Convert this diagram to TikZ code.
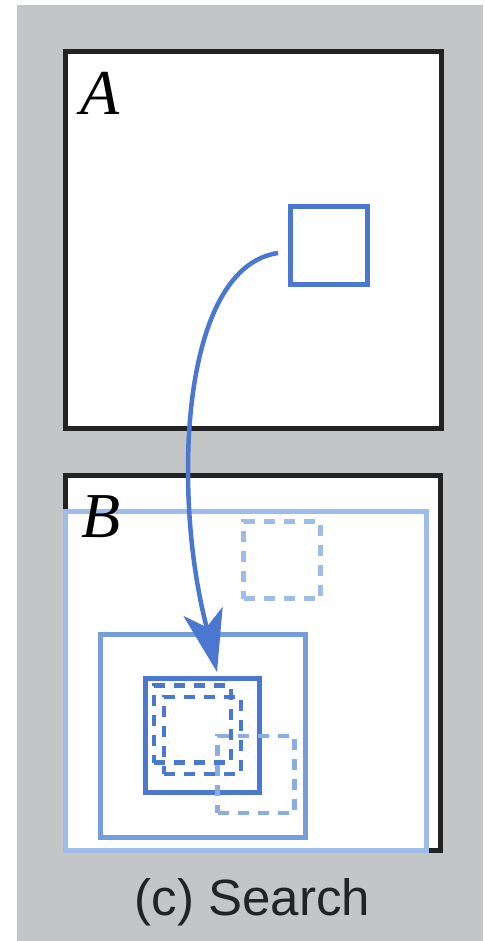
\documentclass[tikz,border=0pt]{standalone}
\usepackage{fontspec}
\setmainfont{Liberation Serif}
\newfontfamily\capfont{Liberation Sans}
\usetikzlibrary{arrows.meta,calc}
\definecolor{bggray}{HTML}{C4C5C7}
\definecolor{frameblack}{HTML}{232323}
\definecolor{darkblue}{HTML}{4A77D0}
\definecolor{medblue}{HTML}{759DDB}
\definecolor{lightblue}{HTML}{9DBCE7}
\definecolor{lmblue}{HTML}{8BAEE2}
\tikzset{
  box/.style={draw, rectangle, inner sep=0pt, outer sep=0pt},
  frame/.style={box, draw=frameblack, line width=5pt, fill=white},
  solidsq/.style={box, draw=darkblue, line width=5pt},
  medsq/.style={box, draw=medblue, line width=5pt},
  lightsq/.style={box, draw=lightblue, line width=5pt},
  dashpat/.style={dash pattern=on 11pt off 9pt},
  ddash/.style={box, draw=darkblue, line width=4.5pt, dashpat, minimum size=77pt},
  ldash/.style={box, draw=lightblue, line width=4.5pt, dashpat, minimum size=77pt},
  mdash/.style={box, draw=lmblue, line width=4.5pt, dashpat, minimum size=77pt},
  lbl/.style={inner sep=0pt, anchor=base, font=\fontsize{64}{64}\selectfont\itshape},
  arrowline/.style={draw=darkblue, line width=4.5pt, -{Stealth[length=62pt, width=40pt, inset=16pt]}},
}
\begin{document}
\begin{tikzpicture}[x=1pt,y=-1pt]
\useasboundingbox (0,0) rectangle (483,941);
\fill[bggray] (17,5) rectangle (483,941);
% frame A
\node[frame, minimum width=376pt, minimum height=376pt] (frameA) at (253,240) {};
\node[lbl] (labA) at (100,115) {A};
\node[solidsq, minimum size=77pt] (src) at (328.5,245.5) {};
% frame B
\node[frame, minimum width=374.5pt, minimum height=374.5pt] (frameB) at (252.75,662.75) {};
\node[lightsq, minimum width=361pt, minimum height=339pt] (win) at (246,680.5) {};
\node[lbl] (labB) at (101,537) {B};
\node[ldash] (cand1) at (282,560) {};
\node[medsq, minimum width=205pt, minimum height=203pt] (zone) at (202.5,735.5) {};
\node[solidsq, minimum size=114pt] (dst) at (202.5,735.5) {};
\node[ddash] (d1) at (192.5,724) {};
\node[ddash] (d2) at (202.5,735.5) {};
\node[mdash] (cand2) at (256,774.5) {};
% arrow
\coordinate (as) at ($(src.west)+(-12,7.5)$);
\coordinate (ae) at ($(dst.north)+(14.5,-6.5)$);
\draw[arrowline] (as) .. controls (215,262) and (188,360) .. (188,470)
  .. controls (188,560) and (205,620) .. (ae);
% caption
\node[inner sep=0pt, anchor=base, font=\capfont\fontsize{51}{51}\selectfont, text=frameblack] (cap) at (252.5,915) {(c) Search};
\end{tikzpicture}
\end{document}
